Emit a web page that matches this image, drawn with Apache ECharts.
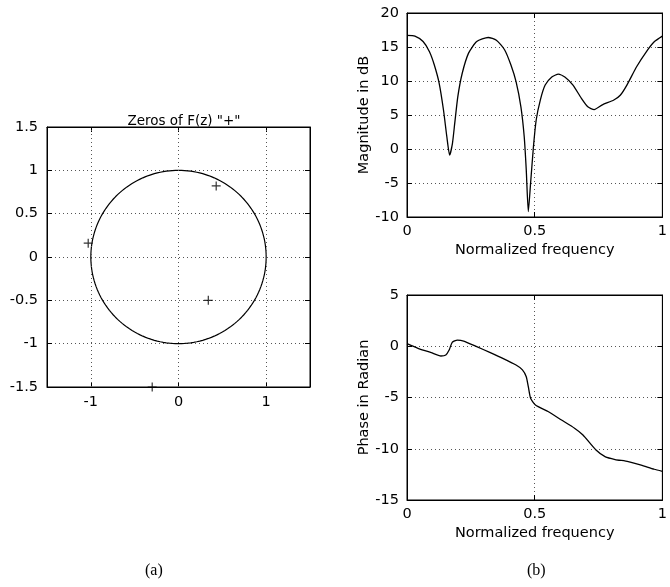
<!DOCTYPE html>
<html>
<head>
<meta charset="utf-8">
<script src="https://cdn.jsdelivr.net/npm/echarts@6/dist/echarts.min.js"></script>
<style>
html,body{margin:0;padding:0;background:#fff;}
#c{width:670px;height:587px;}
</style>
</head>
<body>
<div id="c"></div>
<script>
// ---- Data ----
const zerosRe = [0.43, -1.03, 0.34, -0.30];
const zerosIm = [0.82, 0.16, -0.50, -1.50];
const unitRadius = 1;
const leftXTicks = [-1, 0, 1];

const freq = [0, 0.031, 0.063, 0.088, 0.107, 0.126, 0.143, 0.156, 0.167, 0.178, 0.187, 0.199, 0.216, 0.241, 0.273, 0.318, 0.35, 0.382, 0.407, 0.427, 0.446, 0.459, 0.467, 0.475, 0.484, 0.495, 0.506, 0.522, 0.541, 0.567, 0.593, 0.618, 0.65, 0.682, 0.708, 0.733, 0.765, 0.81, 0.835, 0.861, 0.899, 0.937, 0.969, 1.0];
const magDb = [16.7, 16.6, 15.8, 14.3, 12.35, 9.66, 5.7, 1.8, -0.9, 0.84, 3.8, 7.7, 11.1, 14.1, 15.8, 16.4, 16.0, 14.6, 12.35, 9.9, 6.2, 1.8, -3.1, -9.2, -5.0, 0.3, 4.3, 7.2, 9.4, 10.6, 11.0, 10.6, 9.4, 7.5, 6.2, 5.8, 6.5, 7.2, 7.9, 9.4, 12.1, 14.3, 15.8, 16.6];

const phFreq = [0, 0.043, 0.095, 0.133, 0.152, 0.165, 0.177, 0.197, 0.222, 0.273, 0.324, 0.375, 0.427, 0.452, 0.467, 0.475, 0.484, 0.503, 0.554, 0.605, 0.656, 0.689, 0.739, 0.777, 0.815, 0.866, 0.917, 0.968, 1.0];
const phase = [0.25, -0.2, -0.63, -0.95, -0.85, -0.37, 0.38, 0.6, 0.51, -0.04, -0.6, -1.18, -1.83, -2.3, -2.97, -3.95, -5.08, -5.73, -6.39, -7.2, -8.0, -8.66, -10.1, -10.8, -11.05, -11.25, -11.6, -12.0, -12.2];

// ---- Build ----
const circle = [];
for (let k = 0; k <= 360; k += 2) {
  const t = k * Math.PI / 180;
  circle.push([unitRadius * Math.cos(t), unitRadius * Math.sin(t)]);
}
const zeros = zerosRe.map((r, i) => [r, zerosIm[i]]);
const magData = freq.map((f, i) => [f, magDb[i]]);
const phData = phFreq.map((f, i) => [f, phase[i]]);

const FONT = 'DejaVu Sans';
const FS = 14.5;
const gridLine = {show: true, lineStyle: {color: '#555', width: 1, type: [1, 3]}};
const lbl = {color: '#000', fontFamily: FONT, fontSize: FS};
const tick = {show: true, inside: true, length: 5, lineStyle: {color: '#000'}};

function mainX(gi, o) {
  return Object.assign({
    type: 'value', gridIndex: gi, position: 'bottom',
    axisLine: {show: true, onZero: false, lineStyle: {color: '#000'}},
    axisTick: tick, axisLabel: Object.assign({margin: 7}, lbl),
    splitLine: gridLine,
    nameLocation: 'middle', nameGap: 26,
    nameTextStyle: {color: '#000', fontFamily: FONT, fontSize: FS}
  }, o);
}
function mainY(gi, o) {
  return Object.assign({
    type: 'value', gridIndex: gi, position: 'left',
    axisLine: {show: true, onZero: false, lineStyle: {color: '#000'}},
    axisTick: tick, axisLabel: Object.assign({margin: 8}, lbl),
    splitLine: gridLine,
    nameLocation: 'middle', nameGap: 30,
    nameTextStyle: {color: '#000', fontFamily: FONT, fontSize: FS}
  }, o);
}
function mirX(gi, o) {
  return Object.assign({
    type: 'value', gridIndex: gi, position: 'top',
    axisLine: {show: true, onZero: false, lineStyle: {color: '#000'}},
    axisTick: tick, axisLabel: {show: false}, splitLine: {show: false}
  }, o);
}
function mirY(gi, o) {
  return Object.assign({
    type: 'value', gridIndex: gi, position: 'right',
    axisLine: {show: true, onZero: false, lineStyle: {color: '#000'}},
    axisTick: tick, axisLabel: {show: false}, splitLine: {show: false}
  }, o);
}

const leftX = {min: -1.5, max: 1.5, interval: 0.5,
  axisTick: Object.assign({}, tick, {customValues: leftXTicks}),
  axisLabel: Object.assign({margin: 8, customValues: leftXTicks}, lbl),
  splitLine: {show: false}};
const leftXm = {min: -1.5, max: 1.5, interval: 0.5,
  axisTick: Object.assign({}, tick, {customValues: leftXTicks})};
const leftY = {min: -1.5, max: 1.5, interval: 0.5};
const frX = {min: 0, max: 1, interval: 0.5};
const magY = {min: -10, max: 20, interval: 5};
const phY = {min: -15, max: 5, interval: 5};

const option = {
  backgroundColor: '#fff',
  animation: false,
  title: {
    text: 'Zeros of F(z) "+"', left: 179, top: 109, textAlign: 'center',
    textStyle: {color: '#000', fontFamily: FONT, fontSize: 13.5, fontWeight: 'normal'}
  },
  graphic: [
    {type: 'text', left: 145, top: 563, style: {text: '(a)', fill: '#000', font: '16px "Liberation Serif"'}},
    {type: 'text', left: 527, top: 563, style: {text: '(b)', fill: '#000', font: '16px "Liberation Serif"'}}
  ],
  grid: [
    {left: 47, top: 127, width: 263, height: 260, show: true, borderColor: '#000', borderWidth: 1, backgroundColor: '#fff'},
    {left: 407, top: 13, width: 261, height: 204, show: true, borderColor: '#000', borderWidth: 1, backgroundColor: '#fff'},
    {left: 407, top: 295, width: 261, height: 205, show: true, borderColor: '#000', borderWidth: 1, backgroundColor: '#fff'}
  ],
  xAxis: [
    mainX(0, leftX),
    mainX(1, Object.assign({name: 'Normalized frequency'}, frX)),
    mainX(2, Object.assign({name: 'Normalized frequency'}, frX)),
    mirX(0, leftXm),
    mirX(1, frX),
    mirX(2, frX)
  ],
  yAxis: [
    mainY(0, Object.assign({axisLabel: Object.assign({margin: 9}, lbl)}, leftY)),
    mainY(1, Object.assign({name: 'Magnitude in dB', nameGap: 31}, magY)),
    mainY(2, Object.assign({name: 'Phase in Radian', nameGap: 31}, phY)),
    mirY(0, leftY),
    mirY(1, magY),
    mirY(2, phY)
  ],
  series: [
    {
      type: 'line', xAxisIndex: 0, yAxisIndex: 0, data: circle,
      showSymbol: false, smooth: false, silent: true,
      lineStyle: {color: '#000', width: 1.2},
      markLine: {
        silent: true, symbol: 'none', label: {show: false},
        lineStyle: {color: '#555', width: 1, type: [1, 3]},
        data: leftXTicks.map(v => ({xAxis: v}))
      }
    },
    {
      type: 'scatter', xAxisIndex: 0, yAxisIndex: 0, data: zeros,
      symbol: 'path://M5,0L5,10M0,5L10,5', symbolSize: 9, clip: false,
      itemStyle: {color: 'none', borderColor: '#000', borderWidth: 1.2}
    },
    {
      type: 'line', xAxisIndex: 1, yAxisIndex: 1, data: magData,
      showSymbol: false, smooth: 0.2, lineStyle: {color: '#000', width: 1.3}
    },
    {
      type: 'line', xAxisIndex: 2, yAxisIndex: 2, data: phData,
      showSymbol: false, smooth: 0.2, lineStyle: {color: '#000', width: 1.3}
    }
  ]
};

const chart = echarts.init(document.getElementById('c'), null, {renderer: 'canvas'});
chart.setOption(option);
</script>
</body>
</html>
